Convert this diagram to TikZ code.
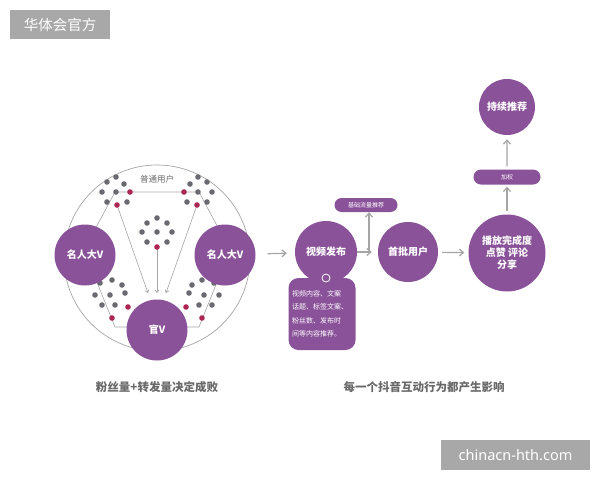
\documentclass[tikz,border=0pt]{standalone}
\usepackage{fontspec}
\newfontfamily\cjk{Noto Sans CJK SC}
\setmainfont{Noto Sans}
\usetikzlibrary{arrows.meta,shapes.misc}
\definecolor{pur}{RGB}{138,82,153}
\definecolor{dotg}{RGB}{105,105,112}
\definecolor{dotr}{RGB}{172,38,82}
\definecolor{lgray}{RGB}{165,165,165}
\definecolor{wm}{RGB}{168,168,168}
\definecolor{capg}{RGB}{105,105,105}
\tikzset{
  bigc/.style={circle, fill=pur, text=white, inner sep=0pt, minimum size=#1,
    font=\cjk\bfseries\fontsize{10}{12}\selectfont, align=center},
  pill/.style={rounded rectangle, fill=pur, text=white, inner sep=0pt,
    font=\cjk\fontsize{6}{7}\selectfont},
  arr/.style={draw=lgray, line width=1.2pt, -{Straight Barb[length=4pt,width=7pt]}},
  thin/.style={draw=lgray, line width=0.6pt},
  thinarr/.style={draw=lgray, line width=0.6pt, -{Straight Barb[length=2.5pt,width=4pt]}},
  gd/.style={fill=dotg},
  rd/.style={fill=dotr},
  caption/.style={text=capg, font=\cjk\bfseries\fontsize{11.5}{13}\selectfont},
  wmark/.style={fill=wm, text=white, inner sep=0pt}
}
\begin{document}
\begin{tikzpicture}[x=1pt,y=-1pt]
\useasboundingbox (0,0) rectangle (600,480);
\fill[white] (0,0) rectangle (600,480);

% watermarks
\node[wmark, minimum width=100pt, minimum height=29pt, font=\cjk\fontsize{14.5}{16}\selectfont] (wm1) at (60,24.5) {华体会官方};
\node[wmark, minimum width=149pt, minimum height=30pt, font=\fontsize{14.5}{16}\selectfont] (wm2) at (515.5,455) {chinacn-hth.com};

% ===== left diagram =====
\node[circle, draw=lgray, line width=0.7pt, minimum size=186pt, inner sep=0pt] (outer) at (157,258) {};
\draw[thin] (115,192) -- (199,192) -- (230,250) -- (199,327) -- (115,327) -- (84,250) -- cycle;

% named dot positions used by arrows
\coordinate (rTL) at (117,205);
\coordinate (rTR) at (197,205);
\coordinate (rC) at (157,247);
\coordinate (tA) at (148,293);
\coordinate (tB) at (157,293);
\coordinate (tC) at (166,293);
\draw[thinarr] (rTL) -- (tA);
\draw[thinarr] (rC) -- (tB);
\draw[thinarr] (rTR) -- (tC);

% top-left cluster
\foreach \p in {(107,182),(116,177),(102,192),(116,192),(107,202),(127,202),(124,184)} \fill[gd] \p circle (2.8);
\foreach \p in {(130,192),(117,205)} \fill[rd] \p circle (2.8);
% top-right cluster
\foreach \p in {(198,177),(207,182),(198,192),(212,192),(187,202),(207,202),(190,184)} \fill[gd] \p circle (2.8);
\foreach \p in {(184,192),(197,205)} \fill[rd] \p circle (2.8);
% center cluster
\foreach \p in {(157,218),(147,223),(167,223),(142,232),(157,232),(172,232),(147,242),(167,242)} \fill[gd] \p circle (2.8);
\fill[rd] (157,247) circle (2.8);
% bottom-left cluster
\foreach \p in {(100,283),(112,280),(122,285),(95,295),(110,295),(125,293),(102,305),(115,305)} \fill[gd] \p circle (2.8);
\foreach \p in {(128,307),(112,318)} \fill[rd] \p circle (2.8);
% bottom-right cluster
\foreach \p in {(214,283),(202,280),(192,285),(219,295),(204,295),(189,293),(212,305),(199,305)} \fill[gd] \p circle (2.8);
\foreach \p in {(186,307),(202,318)} \fill[rd] \p circle (2.8);

\node[text=capg, font=\cjk\fontsize{8.5}{10}\selectfont, fill=white, inner sep=1pt] (pt) at (157,179) {普通用户};

\node[bigc=61pt] (mL) at (85,255) {名人大V};
\node[bigc=61pt] (mR) at (225,255) {名人大V};
\node[bigc=61pt] (gv) at (157,330) {官V};

\node[caption] (cap1) at (157,387) {粉丝量+转发量决定成败};

% ===== right diagram =====
\node[rounded corners=10pt, fill=pur, minimum width=67pt, minimum height=72pt, inner sep=0pt] (vbox) at (322,314) {};
\node[bigc=62pt] (vp) at (326,252) {视频发布};
\node[circle, draw=white, line width=0.8pt, minimum size=8pt, inner sep=0pt] (ring) at (326,278) {};
\node[text=white, font=\cjk\fontsize{7}{13.5}\selectfont, align=left, inner sep=0pt, anchor=north west] (vtext) at (292,290)
  {视频内容、文案\\话题、标签文案、\\粉丝数、发布时\\间等内容推荐。};

\node[pill, minimum width=63pt, minimum height=14pt] (jc) at (366,205) {基础流量推荐};
\node[bigc=60pt] (fu) at (408,252) {首批用户};
\coordinate (jn) at (369,252);
\draw[arr, shorten >=6pt] (vp) -- (fu);
\draw[arr] (jn) -- (jn |- jc.south);

\node[bigc=77pt, font=\cjk\bfseries\fontsize{10}{12}\selectfont] (bf) at (507,253) {播放完成度\\点赞 评论\\分享};
\draw[arr, shorten >=4pt, shorten <=4pt] (fu) -- (bf);

\node[pill, minimum width=67pt, minimum height=15pt] (fz) at (507,177) {加权};
\node[bigc=56pt] (cx) at (507,107) {持续推荐};
\draw[arr, shorten <=3pt, shorten >=2pt] (bf) -- (fz);
\draw[arr, shorten <=3pt, shorten >=4pt] (fz) -- (cx);

\draw[arr, shorten <=12pt, shorten >=8pt] (mR) -- (vp);

\node[caption] (cap2) at (424,387) {每一个抖音互动行为都产生影响};
\end{tikzpicture}
\end{document}
